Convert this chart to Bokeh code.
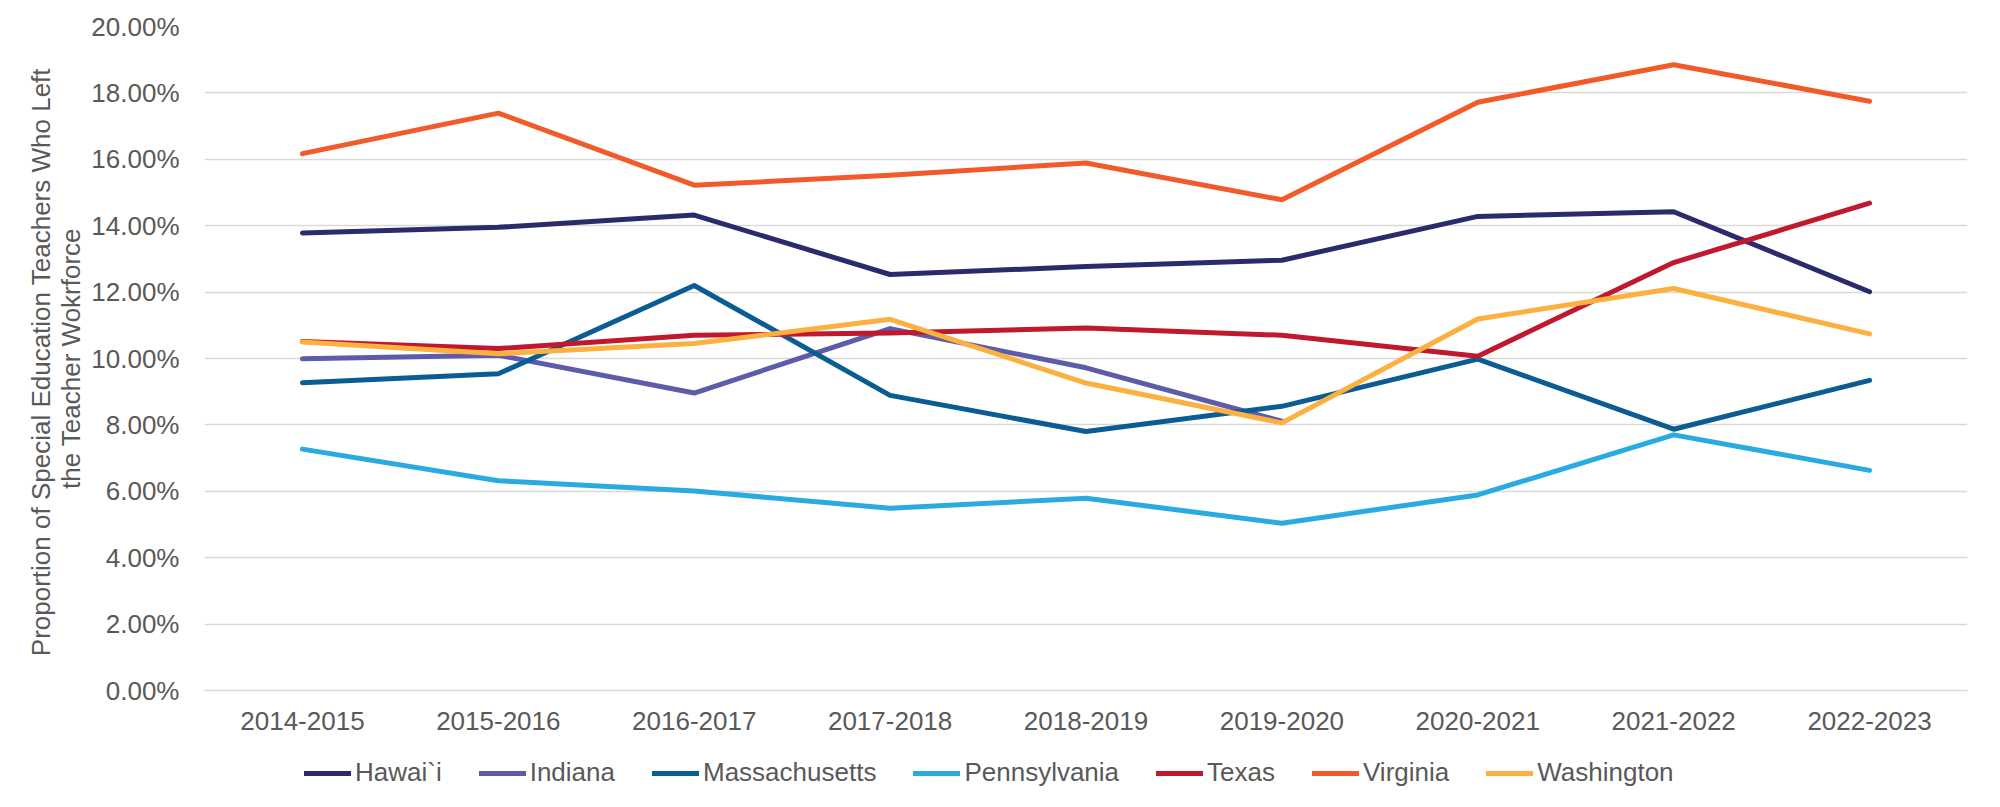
import numpy as np
from bokeh.plotting import figure
from bokeh.layouts import column
from bokeh.models import FactorRange, Range1d, NumeralTickFormatter, FixedTicker, Legend, LegendItem
from bokeh.embed import file_html
from bokeh.resources import INLINE

categories = ["2014-2015", "2015-2016", "2016-2017", "2017-2018", "2018-2019",
              "2019-2020", "2020-2021", "2021-2022", "2022-2023"]

hawaii = [13.78, 13.95, 14.32, 12.53, 12.77, 12.96, 14.28, 14.42, 12.01]
indiana = [9.99, 10.10, 8.96, 10.90, 9.72, 8.11, None, None, None]
massachusetts = [9.27, 9.54, 12.20, 8.89, 7.80, 8.56, 9.98, 7.87, 9.34]
pennsylvania = [7.27, 6.32, 6.01, 5.49, 5.79, 5.04, 5.89, 7.70, 6.63]
texas = [10.51, 10.30, 10.70, 10.77, 10.92, 10.70, 10.07, 12.89, 14.68]
virginia = [16.17, 17.39, 15.22, 15.52, 15.89, 14.78, 17.72, 18.85, 17.75]
washington = [10.50, 10.14, 10.45, 11.18, 9.26, 8.06, 11.19, 12.11, 10.74]

series_names = ["Hawai`i", "Indiana", "Massachusetts", "Pennsylvania", "Texas", "Virginia", "Washington"]
series_values = [hawaii, indiana, massachusetts, pennsylvania, texas, virginia, washington]
series_colors = ["#2B2A6B", "#5E5BA8", "#0A5C92", "#29ABE2", "#C0192F", "#F15A29", "#FBB040"]

y_ticks = [0.0, 0.02, 0.04, 0.06, 0.08, 0.10, 0.12, 0.14, 0.16, 0.18, 0.20]

FONT = "Liberation Sans"
TXT = "#595959"
GRID = "#d9d9d9"
LW = 5

p = figure(frame_width=1763, frame_height=664,
           x_range=FactorRange(factors=categories, range_padding=0),
           y_range=Range1d(0, 0.2), output_backend="svg", toolbar_location=None,
           min_border_left=204, min_border_right=17, min_border_top=26, min_border_bottom=60)
p.outline_line_color = None
p.background_fill_color = "white"
p.border_fill_color = "white"

for name, vals, col in zip(series_names, series_values, series_colors):
    ys = np.array([np.nan if v is None else v / 100.0 for v in vals])
    p.line(x=categories, y=ys, line_color=col, line_width=LW,
           line_cap="round", line_join="round")

p.xgrid.grid_line_color = None
p.ygrid.grid_line_color = GRID
p.ygrid.grid_line_width = 1.5
p.yaxis.ticker = FixedTicker(ticks=y_ticks)
p.yaxis.formatter = NumeralTickFormatter(format="0.00%")
p.yaxis.axis_line_color = None
p.yaxis.major_tick_line_color = None
p.yaxis.major_tick_out = 0
p.yaxis.major_tick_in = 0
p.yaxis.minor_tick_line_color = None
p.yaxis.minor_tick_out = 0
p.yaxis.major_label_standoff = 25
p.yaxis.major_label_text_font = FONT
p.yaxis.major_label_text_font_size = "26px"
p.yaxis.major_label_text_color = TXT
p.yaxis.axis_label = "Proportion of  Special Education Teachers Who Left\nthe Teacher Wokrforce"
p.yaxis.axis_label_text_font = FONT
p.yaxis.axis_label_text_font_size = "26px"
p.yaxis.axis_label_text_font_style = "normal"
p.yaxis.axis_label_text_color = TXT
p.yaxis.axis_label_text_line_height = 1.0
p.yaxis.axis_label_standoff = 2

p.xaxis.axis_line_color = GRID
p.xaxis.axis_line_width = 1.5
p.xaxis.major_tick_line_color = None
p.xaxis.major_tick_out = 0
p.xaxis.major_tick_in = 0
p.xaxis.minor_tick_line_color = None
p.xaxis.minor_tick_out = 0
p.xaxis.major_label_standoff = 21
p.xaxis.major_label_text_font = FONT
p.xaxis.major_label_text_font_size = "26px"
p.xaxis.major_label_text_color = TXT

# legend strip below the chart (dummy lines lie outside its visible range)
lg = figure(frame_width=1984, frame_height=46, x_range=Range1d(0, 1), y_range=Range1d(0, 1),
            x_axis_type=None, y_axis_type=None, output_backend="svg", toolbar_location=None,
            min_border=0)
lg.outline_line_color = None
lg.xgrid.grid_line_color = None
lg.ygrid.grid_line_color = None
items = []
for name, col in zip(series_names, series_colors):
    r = lg.line(x=[5, 6], y=[5, 6], line_color=col, line_width=LW, line_cap="round")
    items.append(LegendItem(label=name, renderers=[r]))
legend = Legend(items=items, orientation="horizontal", location=(304, 8),
                glyph_width=47, glyph_height=30, label_height=30, label_width=10,
                label_standoff=4, spacing=37, padding=0, margin=0,
                border_line_color=None, background_fill_alpha=0,
                label_text_font=FONT, label_text_font_size="26px", label_text_color=TXT)
lg.add_layout(legend)

layout = column(p, lg, spacing=0)
open("out.html", "w").write(file_html(layout, INLINE))
